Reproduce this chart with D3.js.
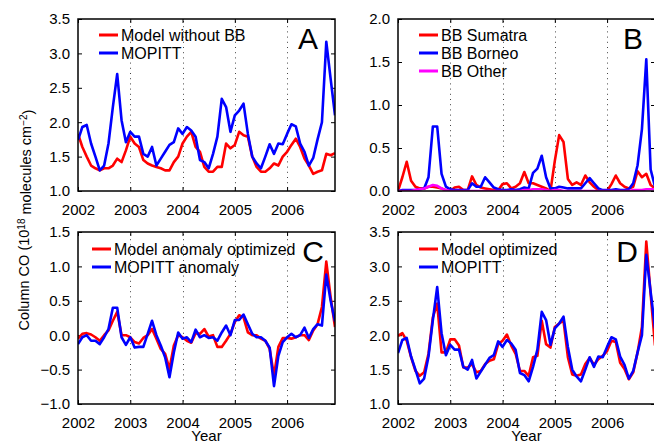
<!DOCTYPE html>
<html>
<head>
<meta charset="utf-8">
<script src="https://cdn.jsdelivr.net/npm/d3@7"></script>
<style>
  body { margin: 0; background: #fff; }
  svg { display: block; font-family: "Liberation Sans", Arial, sans-serif; }
</style>
</head>
<body>
<div id="chart"></div>
<script>
// monthly values, Jan 2002 .. Dec 2006
var months = d3.range(60).map(function(i) { return 2002 + i / 12; });
var yearTicks = [2002, 2003, 2004, 2005, 2006];

var mopitt = [1.74,1.93,1.96,1.69,1.50,1.30,1.37,1.69,2.22,2.70,2.03,1.71,
              1.86,1.79,1.79,1.54,1.50,1.64,1.37,1.47,1.57,1.67,1.71,1.91,
              1.83,1.93,1.88,1.79,1.45,1.42,1.33,1.54,1.79,2.34,2.22,1.86,
              2.10,2.17,2.27,1.83,1.50,1.40,1.33,1.50,1.68,1.54,1.69,1.68,
              1.83,1.97,1.94,1.69,1.57,1.37,1.48,1.75,2.00,3.17,2.63,2.10];

var modelNoBB = [1.83,1.64,1.50,1.37,1.33,1.30,1.33,1.33,1.37,1.47,1.42,1.59,
                 1.79,1.69,1.64,1.45,1.40,1.37,1.35,1.33,1.30,1.30,1.42,1.50,
                 1.69,1.79,1.86,1.64,1.57,1.35,1.28,1.28,1.35,1.35,1.69,1.62,
                 1.67,1.86,1.81,1.79,1.50,1.35,1.28,1.28,1.33,1.40,1.37,1.50,
                 1.57,1.67,1.76,1.64,1.47,1.37,1.25,1.28,1.30,1.54,1.52,1.55];

var bbSumatra = [0.00,0.16,0.34,0.12,0.05,0.03,0.03,0.05,0.05,0.04,0.03,0.01,
                 0.00,0.04,0.05,0.01,0.01,0.17,0.07,0.04,0.03,0.02,0.01,0.01,
                 0.08,0.09,0.03,0.05,0.09,0.22,0.09,0.09,0.07,0.05,0.03,0.00,
                 0.35,0.65,0.57,0.14,0.07,0.10,0.07,0.18,0.10,0.05,0.01,0.00,
                 0.00,0.08,0.18,0.09,0.05,0.03,0.05,0.23,0.16,0.20,0.07,0.03];

var bbBorneo = [0.00,0.01,0.01,0.01,0.01,0.02,0.03,0.16,0.75,0.75,0.20,0.05,
                0.02,0.01,0.01,0.01,0.01,0.09,0.05,0.05,0.16,0.10,0.04,0.02,
                0.01,0.01,0.02,0.01,0.02,0.04,0.03,0.21,0.26,0.41,0.16,0.03,
                0.03,0.05,0.04,0.03,0.03,0.03,0.03,0.09,0.15,0.09,0.03,0.01,
                0.01,0.01,0.02,0.01,0.01,0.02,0.09,0.30,0.72,1.53,0.25,0.05];

var bbOther = [0.00,0.00,0.00,0.00,0.01,0.02,0.03,0.05,0.07,0.06,0.03,0.01,
               0.00,0.00,0.00,0.00,0.00,0.00,0.00,0.00,0.00,0.00,0.00,0.00,
               0.00,0.00,0.00,0.00,0.00,0.01,0.01,0.02,0.02,0.02,0.01,0.00,
               0.01,0.01,0.00,0.00,0.00,0.00,0.00,0.00,0.00,0.00,0.00,0.00,
               0.00,0.00,0.00,0.00,0.00,0.00,0.01,0.01,0.01,0.02,0.02,0.02];

var mopittAnom = [-0.13,-0.03,0.00,-0.08,-0.08,-0.13,-0.03,0.09,0.40,0.40,-0.03,-0.14,
                  -0.03,-0.18,-0.17,-0.17,0.02,0.21,0.00,-0.15,-0.32,-0.61,-0.25,0.04,
                  -0.05,-0.03,-0.10,0.08,-0.03,0.00,-0.04,-0.03,-0.08,0.04,0.14,0.00,
                  0.22,0.22,0.30,0.16,0.02,-0.03,-0.03,-0.08,-0.18,-0.74,-0.30,-0.10,
                  -0.03,0.02,-0.03,0.00,0.11,-0.04,0.09,0.16,0.14,0.88,0.50,0.20];

var modelAnom = [-0.05,0.02,0.03,0.01,-0.03,-0.08,0.00,0.07,0.21,0.34,0.00,0.00,
                 -0.03,-0.10,-0.12,-0.04,0.00,0.09,-0.05,-0.20,-0.27,-0.49,-0.15,0.00,
                 -0.03,-0.08,-0.11,0.03,0.02,0.09,-0.02,0.00,-0.17,-0.17,-0.08,0.02,
                 0.19,0.29,0.26,0.04,0.00,0.00,-0.05,-0.08,-0.20,-0.59,-0.17,-0.04,
                 -0.04,-0.05,-0.03,0.00,0.00,-0.07,0.07,0.16,0.41,1.07,0.55,0.12];

var modelOpt = [1.99,2.03,1.92,1.68,1.48,1.41,1.46,1.73,2.26,2.46,1.75,1.75,
                1.94,1.94,1.85,1.53,1.53,1.58,1.46,1.48,1.58,1.63,1.65,1.87,
                1.92,2.01,1.85,1.73,1.48,1.48,1.41,1.68,1.70,2.21,1.87,1.82,
                2.12,2.17,2.21,1.68,1.43,1.41,1.43,1.58,1.67,1.57,1.65,1.70,
                1.77,1.92,1.90,1.60,1.51,1.36,1.46,1.75,2.12,3.36,2.60,1.85];

var W = 654, H = 445;
var pw = 257, ph = 172;

var panels = [
  { letter: "A", left: 78, top: 19, y: [1, 3.5], yTicks: [1, 1.5, 2, 2.5, 3, 3.5], lx: 318, ly: 49,
    legX: 99, legY: 35,
    series: [{ name: "Model without BB", values: modelNoBB, color: "#ff0000" },
             { name: "MOPITT", values: mopitt, color: "#0000ff" }] },
  { letter: "B", left: 398, top: 19, y: [0, 2], yTicks: [0, 0.5, 1, 1.5, 2], lx: 643, ly: 49,
    legX: 419, legY: 35,
    series: [{ name: "BB Sumatra", values: bbSumatra, color: "#ff0000" },
             { name: "BB Borneo", values: bbBorneo, color: "#0000ff" },
             { name: "BB Other", values: bbOther, color: "#ff00ff" }] },
  { letter: "C", left: 78, top: 232, y: [-1, 1.5], yTicks: [-1, -0.5, 0, 0.5, 1, 1.5], lx: 324, ly: 262,
    legX: 92, legY: 249,
    series: [{ name: "Model anomaly optimized", values: modelAnom, color: "#ff0000" },
             { name: "MOPITT anomaly", values: mopittAnom, color: "#0000ff" }] },
  { letter: "D", left: 398, top: 232, y: [1, 3.5], yTicks: [1, 1.5, 2, 2.5, 3, 3.5], lx: 638, ly: 262,
    legX: 419, legY: 249,
    series: [{ name: "Model optimized", values: modelOpt, color: "#ff0000" },
             { name: "MOPITT", values: mopitt, color: "#0000ff" }] }
];

var svg = d3.select("#chart").append("svg")
    .attr("width", W)
    .attr("height", H);

var fmt = function(v) { return d3.format(".1f")(v).replace("-", "\u2212"); };

panels.forEach(function(p, k) {
  var x = d3.scaleLinear().domain([2002, 2002 + 59 / 12]).range([0, pw]);
  var y = d3.scaleLinear().domain(p.y).range([ph, 0]);

  var g = svg.append("g").attr("transform", "translate(" + p.left + "," + p.top + ")");

  // dotted year grid
  g.append("g").selectAll("line")
    .data(yearTicks.slice(1))
    .join("line")
    .attr("x1", d => Math.round(x(d)) + 0.5).attr("x2", d => Math.round(x(d)) + 0.5)
    .attr("y1", 2).attr("y2", ph)
    .attr("stroke", "#444")
    .attr("stroke-width", 1)
    .attr("stroke-dasharray", "1,4.2");

  // axes with inward ticks
  var ax = g.append("g").attr("transform", "translate(0," + ph + ")")
    .call(d3.axisBottom(x).tickValues(yearTicks).tickSize(-4).tickPadding(10).tickFormat(d3.format("d")));
  var ay = g.append("g")
    .call(d3.axisLeft(y).tickValues(p.yTicks).tickSize(-4).tickPadding(8).tickFormat(fmt));
  g.append("g")
    .call(d3.axisTop(x).tickValues(yearTicks).tickSize(-4).tickFormat(""));
  g.append("g").attr("transform", "translate(" + pw + ",0)")
    .call(d3.axisRight(y).tickValues(p.yTicks).tickSize(-4).tickFormat(""));

  g.selectAll(".domain").remove();
  g.selectAll(".tick line").attr("stroke", "#000").attr("stroke-width", 1);
  g.selectAll(".tick text").attr("fill", "#000").style("font-size", "15px")
    .style("font-family", "'Liberation Sans', Arial, sans-serif");
  ax.selectAll(".tick text").attr("dy", "0.9em");

  // clip lines to box
  var clipId = "clip" + k;
  g.append("clipPath").attr("id", clipId)
    .append("rect").attr("x", 0).attr("y", 0).attr("width", pw).attr("height", ph);

  var line = d3.line()
    .x((d, i) => x(months[i]))
    .y(d => y(d));

  g.append("g").attr("clip-path", "url(#" + clipId + ")")
    .selectAll("path")
    .data(p.series)
    .join("path")
    .attr("d", d => line(d.values))
    .attr("fill", "none")
    .attr("stroke", d => d.color)
    .attr("stroke-width", 2.6)
    .attr("stroke-linejoin", "round");

  // box
  g.append("rect")
    .attr("x", 0).attr("y", 0).attr("width", pw).attr("height", ph)
    .attr("fill", "none").attr("stroke", "#000").attr("stroke-width", 1.5);

  // legend
  var leg = svg.append("g").selectAll("g")
    .data(p.series)
    .join("g")
    .attr("transform", (d, i) => "translate(" + p.legX + "," + (p.legY + i * 18) + ")");
  leg.append("line")
    .attr("x1", 0).attr("x2", 19).attr("y1", 0).attr("y2", 0)
    .attr("stroke", d => d.color).attr("stroke-width", 3);
  leg.append("text")
    .attr("x", 22).attr("y", 6)
    .style("font-size", "16px")
    .text(d => d.name);

  // panel letter
  svg.append("text")
    .attr("x", p.lx).attr("y", p.ly)
    .attr("text-anchor", "end")
    .style("font-size", "30px")
    .text(p.letter);
});

// x axis titles
[78, 398].forEach(function(l) {
  svg.append("text")
    .attr("x", l + pw / 2).attr("y", 441)
    .attr("text-anchor", "middle")
    .style("font-size", "15px")
    .text("Year");
});

// shared y axis title
var yt = svg.append("text")
  .attr("transform", "translate(29,220) rotate(-90)")
  .attr("text-anchor", "middle")
  .style("font-size", "14.5px");
yt.append("tspan").text("Column CO (10");
yt.append("tspan").attr("dy", "-0.45em").style("font-size", "10px").text("18");
yt.append("tspan").attr("dy", "0.45em").text(" molecules cm");
yt.append("tspan").attr("dy", "-0.45em").style("font-size", "10px").text("\u22122");
yt.append("tspan").attr("dy", "0.45em").text(")");
</script>
</body>
</html>
